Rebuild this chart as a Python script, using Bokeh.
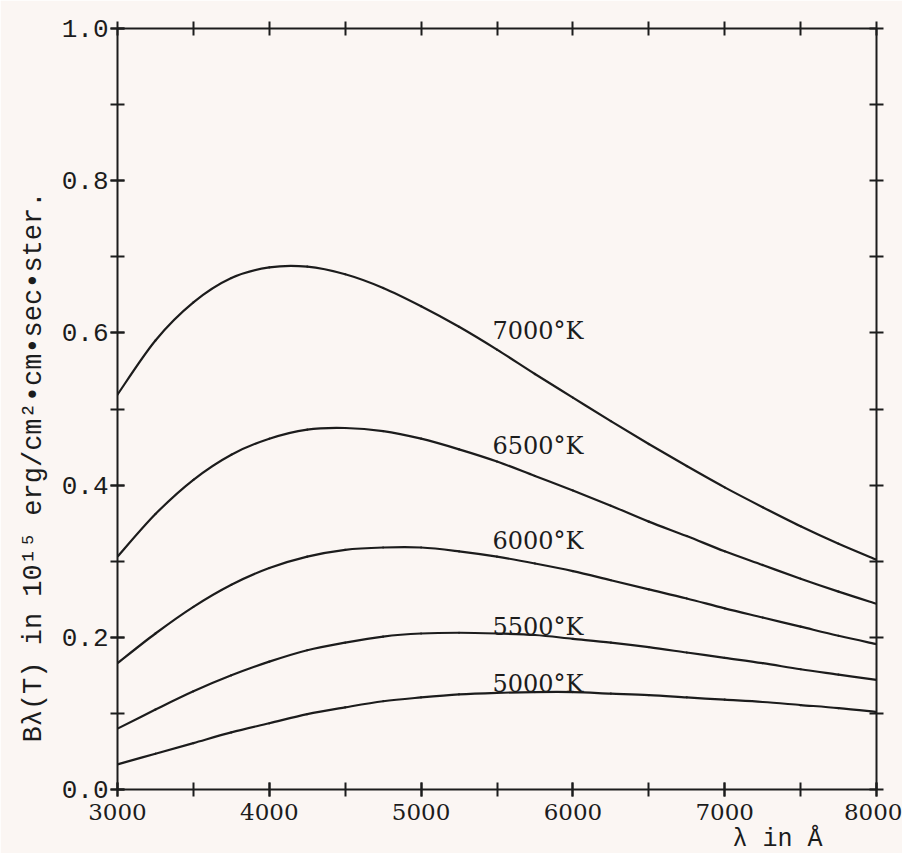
from bokeh.plotting import figure
from bokeh.models import (Range1d, LinearAxis, SingleIntervalTicker, Label, Title,
                          CustomJSTickFormatter)
from bokeh.embed import file_html
from bokeh.resources import INLINE

# wavelength in Angstrom
wavelength = [3000, 3250, 3500, 3750, 4000, 4250, 4500, 4750, 5000, 5250, 5500,
              5750, 6000, 6250, 6500, 6750, 7000, 7250, 7500, 7750, 8000]

# B_lambda(T) in 1e15 erg/cm^2 . cm . sec . ster
b_7000 = [0.519, 0.590, 0.640, 0.672, 0.686, 0.687, 0.677, 0.659, 0.635, 0.608, 0.578,
          0.546, 0.515, 0.484, 0.454, 0.425, 0.397, 0.371, 0.346, 0.323, 0.302]
b_6500 = [0.306, 0.362, 0.407, 0.440, 0.461, 0.473, 0.475, 0.471, 0.461, 0.447, 0.431,
          0.412, 0.393, 0.373, 0.352, 0.333, 0.313, 0.295, 0.277, 0.260, 0.244]
b_6000 = [0.166, 0.205, 0.240, 0.269, 0.291, 0.306, 0.315, 0.318, 0.318, 0.313, 0.306,
          0.297, 0.287, 0.275, 0.263, 0.251, 0.238, 0.226, 0.214, 0.202, 0.191]
b_5500 = [0.080, 0.105, 0.129, 0.150, 0.168, 0.183, 0.193, 0.201, 0.205, 0.206, 0.205,
          0.203, 0.198, 0.193, 0.187, 0.180, 0.173, 0.166, 0.158, 0.151, 0.144]
b_5000 = [0.033, 0.047, 0.061, 0.075, 0.087, 0.099, 0.108, 0.116, 0.121, 0.125, 0.127,
          0.128, 0.128, 0.126, 0.124, 0.121, 0.118, 0.115, 0.111, 0.107, 0.102]

series = [b_7000, b_6500, b_6000, b_5500, b_5000]
curve_labels = ["7000°K", "6500°K", "6000°K", "5500°K", "5000°K"]

# label anchors (left edge, vertical middle)
label_x = [5470, 5470, 5470, 5470, 5470]
label_y = [0.603, 0.452, 0.327, 0.213, 0.139]

y_title = "Bλ(T) in 10¹⁵ erg/cm²•cm•sec•ster."
x_title = "λ in Å"

PAPER = "#fbf6f3"
INK = "#1c1c1c"

p = figure(width=902, height=853, output_backend="svg", toolbar_location=None,
           x_range=Range1d(3000, 8000), y_range=Range1d(0, 1),
           min_border_left=117, min_border_right=26, min_border_top=28,
           min_border_bottom=62, background_fill_color=PAPER,
           border_fill_color=PAPER, outline_line_color=None)
p.grid.visible = False


def style_axis(ax, show_labels, font=None, size=None):
    ax.axis_line_color = INK
    ax.axis_line_width = 2
    ax.major_tick_line_color = INK
    ax.minor_tick_line_color = INK
    ax.major_tick_line_width = 2
    ax.minor_tick_line_width = 2
    ax.major_tick_in = 7
    ax.major_tick_out = 7
    ax.minor_tick_in = 7
    ax.minor_tick_out = 7
    if show_labels:
        ax.major_label_text_font = font
        ax.major_label_text_font_size = size
        ax.major_label_text_color = INK
    else:
        ax.major_label_text_font_size = "0px"
        ax.major_label_text_color = None


xb = p.xaxis[0]
xb.ticker = SingleIntervalTicker(interval=1000, num_minor_ticks=2)
style_axis(xb, True, "DejaVu Serif", "23px")
xb.major_label_standoff = 7

yl = p.yaxis[0]
yl.ticker = SingleIntervalTicker(interval=0.2, num_minor_ticks=2)
style_axis(yl, True, "Liberation Mono", "26px")
yl.major_label_standoff = 2
yl.formatter = CustomJSTickFormatter(code="return tick.toFixed(1);")

xt = LinearAxis(ticker=SingleIntervalTicker(interval=500, num_minor_ticks=0))
style_axis(xt, False)
p.add_layout(xt, "above")

yr = LinearAxis(ticker=SingleIntervalTicker(interval=0.1, num_minor_ticks=0))
style_axis(yr, False)
p.add_layout(yr, "right")


def smooth_curve(xs, ys):
    # Catmull-Rom segments drawn as cubic Bezier curves through the data points
    n = len(xs)
    seg = dict(x0=[], y0=[], x1=[], y1=[], cx0=[], cy0=[], cx1=[], cy1=[])
    for i in range(n - 1):
        a = max(i - 1, 0)
        d = min(i + 2, n - 1)
        seg["x0"].append(xs[i]); seg["y0"].append(ys[i])
        seg["x1"].append(xs[i + 1]); seg["y1"].append(ys[i + 1])
        seg["cx0"].append(xs[i] + (xs[i + 1] - xs[a]) / 6)
        seg["cy0"].append(ys[i] + (ys[i + 1] - ys[a]) / 6)
        seg["cx1"].append(xs[i + 1] - (xs[d] - xs[i]) / 6)
        seg["cy1"].append(ys[i + 1] - (ys[d] - ys[i]) / 6)
    p.bezier(line_color=INK, line_width=2.2, line_cap="round", **seg)


for ys in series:
    smooth_curve(wavelength, ys)

for txt, lx, ly in zip(curve_labels, label_x, label_y):
    p.add_layout(Label(x=lx, y=ly, text=txt, text_font="DejaVu Serif",
                       text_font_size="24px", text_color=INK,
                       text_align="left", text_baseline="middle"))

p.add_layout(Title(text=y_title, align="left", offset=47, standoff=20,
                   text_font="Liberation Mono", text_font_size="27px",
                   text_font_style="normal", text_color=INK), "left")
p.add_layout(Title(text=x_title, align="right", offset=54, standoff=0,
                   text_font="Liberation Mono", text_font_size="25px",
                   text_font_style="normal", text_color=INK), "below")

open("out.html", "w").write(file_html(p, INLINE))
